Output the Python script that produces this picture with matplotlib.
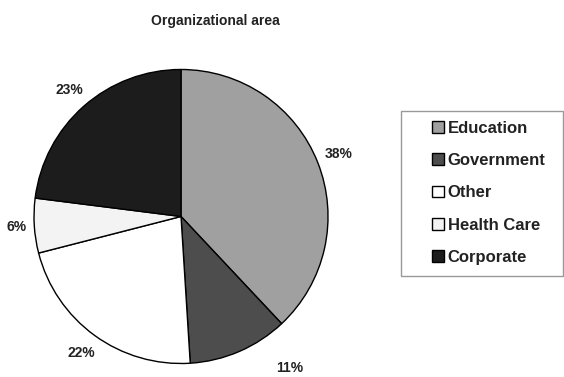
import matplotlib
matplotlib.use("Agg")
import matplotlib.pyplot as plt
from matplotlib.patches import Rectangle

plt.rcParams['font.family'] = ['Liberation Sans', 'DejaVu Sans']

areas = ['Education', 'Government', 'Other', 'Health Care', 'Corporate']
shares = [38, 11, 22, 6, 23]
colors = ['#a0a0a0', '#4d4d4d', '#ffffff', '#f3f3f3', '#1c1c1c']

fig = plt.figure(figsize=(5.64, 3.77), dpi=100)
ax = fig.add_axes([0.0603, 0.0345, 0.5213, 0.7825])

wedges, texts, autotexts = ax.pie(
    shares, colors=colors, startangle=90, counterclock=False,
    autopct='%d%%', pctdistance=1.15,
    wedgeprops=dict(edgecolor='black', linewidth=1.0),
    textprops=dict(fontsize=10, fontweight='bold', color='#222222'))
ax.set_xlim(-1, 1)
ax.set_ylim(-1, 1)
ax.set_aspect('equal')

# the small Government label sits lower right, clear of the bottom edge
autotexts[1].set_position((0.74, -1.03))
autotexts[3].set_position((-1.12, -0.07))

fig.text(0.381, 0.944, 'Organizational area', ha='center', va='center',
         fontsize=10, fontweight='bold', color='#222222')

leg = fig.legend(wedges, areas, loc='upper left', bbox_to_anchor=(0.766, 0.68),
                 borderaxespad=0, borderpad=0, frameon=False,
                 prop=dict(size=12, weight='bold'), labelspacing=1.04,
                 handlelength=0.7, handleheight=0.7, handletextpad=0.25)
for t in leg.get_texts():
    t.set_color('#222222')

# legend frame
fig.patches.append(Rectangle((0.711, 0.268), 0.287, 0.438, transform=fig.transFigure,
                             facecolor='none', edgecolor='#999999', linewidth=1.0))

fig.savefig('out.png', dpi=100)
